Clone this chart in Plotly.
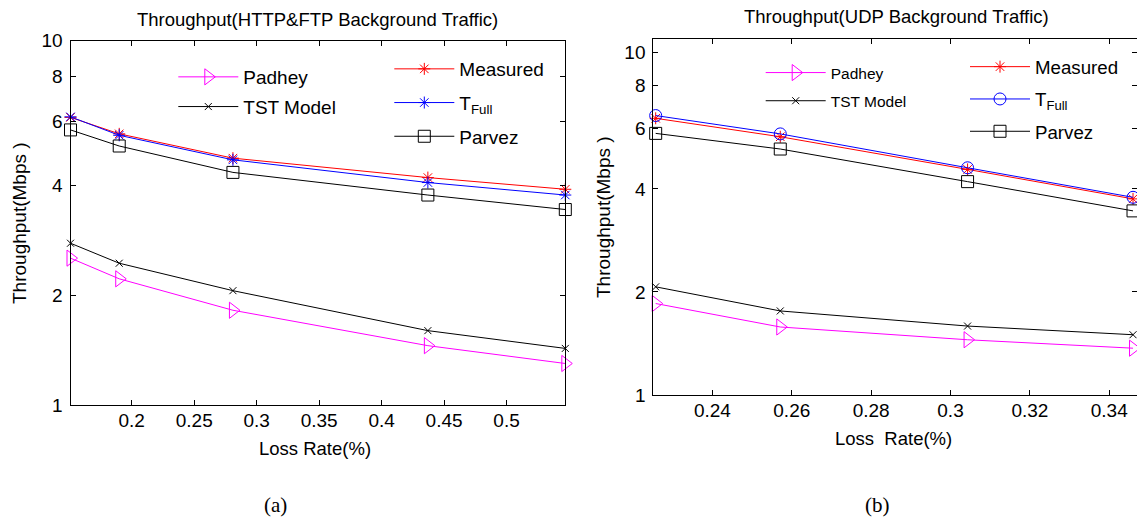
import plotly.graph_objects as go

# ---------------- data ----------------
loss_a = [0.151, 0.190, 0.281, 0.437, 0.547]
measured_a = [6.16, 5.55, 4.76, 4.21, 3.91]
tfull_a = [6.18, 5.50, 4.71, 4.08, 3.77]
parvez_a = [5.69, 5.14, 4.35, 3.77, 3.44]
tst_a = [2.78, 2.45, 2.06, 1.60, 1.43]
padhey_a = [2.53, 2.22, 1.82, 1.455, 1.30]

loss_b = [0.2257, 0.2571, 0.3043, 0.346]
measured_b = [6.43, 5.68, 4.56, 3.74]
tfull_b = [6.55, 5.79, 4.61, 3.78]
parvez_b = [5.81, 5.23, 4.20, 3.45]
tst_b = [2.07, 1.76, 1.59, 1.50]
padhey_b = [1.85, 1.58, 1.45, 1.37]

ytick_vals = [1, 2, 4, 6, 8, 10]
xtick_a = [0.2, 0.25, 0.3, 0.35, 0.4, 0.45, 0.5]
xtick_b = [0.24, 0.26, 0.28, 0.3, 0.32, 0.34]

W, H = 1137, 518
FONT = "Liberation Sans, Arial, Helvetica, sans-serif"


def px(x):
    return x / W


def py(y):
    return 1 - y / H


fig = go.Figure()


def add_panel(xa, ya, loss, padhey, tst, measured, tfull, parvez, tfull_sym, tfull_size, leg1, leg2):
    common = dict(xaxis=xa, yaxis=ya, mode="lines+markers", cliponaxis=False)
    fig.add_trace(go.Scatter(x=loss, y=padhey, name="Padhey", legend=leg1, legendgroup=leg1 + "p",
                             line=dict(color="#FF00FF", width=1),
                             marker=dict(symbol="triangle-right-open", size=14, color="#FF00FF",
                                         line=dict(width=1, color="#FF00FF")), **common))
    fig.add_trace(go.Scatter(x=loss, y=tst, name="TST Model", legend=leg1, legendgroup=leg1 + "t",
                             line=dict(color="black", width=1),
                             marker=dict(symbol="x-thin-open", size=7, color="black",
                                         line=dict(width=1, color="black")), **common))
    fig.add_trace(go.Scatter(x=loss, y=measured, name="Measured", legend=leg2, legendgroup=leg2 + "m",
                             line=dict(color="#FF0000", width=1),
                             marker=dict(symbol="asterisk-open", size=10, color="#FF0000",
                                         line=dict(width=1, color="#FF0000")), **common))
    fig.add_trace(go.Scatter(x=loss, y=tfull, name="T<sub>Full</sub>", legend=leg2, legendgroup=leg2 + "f",
                             line=dict(color="#0000FF", width=1),
                             marker=dict(symbol=tfull_sym, size=tfull_size, color="#0000FF",
                                         line=dict(width=1, color="#0000FF")), **common))
    fig.add_trace(go.Scatter(x=loss, y=parvez, name="Parvez", legend=leg2, legendgroup=leg2 + "v",
                             line=dict(color="black", width=1),
                             marker=dict(symbol="square-open", size=12, color="black",
                                         line=dict(width=1, color="black")), **common))


add_panel("x", "y", loss_a, padhey_a, tst_a, measured_a, tfull_a, parvez_a, "asterisk-open", 10, "legend", "legend2")
add_panel("x2", "y2", loss_b, padhey_b, tst_b, measured_b, tfull_b, parvez_b, "circle-open", 12, "legend3", "legend4")

axis_common = dict(showline=True, linecolor="black", linewidth=1, mirror="ticks", ticks="inside",
                   ticklen=5, tickcolor="black", tickwidth=1, showgrid=False, zeroline=False,
                   automargin=False,
                   tickfont=dict(family=FONT, size=19, color="black"))

leg_common = dict(xanchor="left", yanchor="top", bgcolor="rgba(0,0,0,0)", borderwidth=0,
                  traceorder="grouped", xref="paper", yref="paper", itemwidth=60)

fig.update_layout(
    width=W, height=H, margin=dict(l=0, r=0, t=0, b=0, pad=0, autoexpand=False),
    paper_bgcolor="white", plot_bgcolor="white",
    font=dict(family=FONT, color="black"),
    xaxis=dict(domain=[px(70.5), px(565.3)], range=[0.151, 0.547], tickvals=xtick_a,
               ticktext=[f"{v:g}" for v in xtick_a], anchor="y", ticklabelstandoff=-2, **axis_common),
    yaxis=dict(domain=[py(405), py(40.7)], type="log", range=[0, 1], tickvals=ytick_vals,
               ticktext=[str(v) for v in ytick_vals], anchor="x", ticklabelstandoff=3, **axis_common),
    xaxis2=dict(domain=[px(653.3), 1.0], range=[0.2251, 0.347], tickvals=xtick_b,
                ticktext=[f"{v:g}" for v in xtick_b], anchor="y2", ticklabelstandoff=-2, **axis_common),
    yaxis2=dict(domain=[py(395), py(39.3)], type="log", range=[0, 1.039], tickvals=ytick_vals,
                ticktext=[str(v) for v in ytick_vals], anchor="x2", ticklabelstandoff=3, **axis_common),
    legend=dict(x=px(173.3), y=py(58), font=dict(family=FONT, size=19), tracegroupgap=2, **leg_common),
    legend2=dict(x=px(389.3), y=py(50), font=dict(family=FONT, size=19), tracegroupgap=6, **leg_common),
    legend3=dict(x=px(760.7), y=py(56), font=dict(family=FONT, size=15.5), tracegroupgap=5, **leg_common),
    legend4=dict(x=px(965), y=py(48), font=dict(family=FONT, size=18.7), tracegroupgap=5, **leg_common),
    showlegend=True,
)


def ann(text, x, y, size, family=FONT, angle=0):
    fig.add_annotation(text=text, x=px(x), y=py(y), xref="paper", yref="paper", showarrow=False,
                       xanchor="center", yanchor="middle", textangle=angle,
                       font=dict(family=family, size=size, color="black"))


ann("Throughput(HTTP&FTP Background Traffic)", 317, 19, 18.5)
ann("Throughput(UDP Background Traffic)", 896, 16.5, 18.5)
ann("Loss Rate(%)", 315, 448, 18.5)
ann("Loss  Rate(%)", 893, 438, 18.5)
ann("Throughput(Mbps )", 20, 223, 19, angle=-90)
ann("Throughput(Mbps )", 604, 217, 19, angle=-90)
ann("(a)", 275, 505, 21, family="Liberation Serif, Times New Roman, serif")
ann("(b)", 877, 505, 21, family="Liberation Serif, Times New Roman, serif")

fig.write_html("out.html", config={"displayModeBar": False},
               post_script="document.body.style.margin='0px';document.body.style.overflow='hidden';")
